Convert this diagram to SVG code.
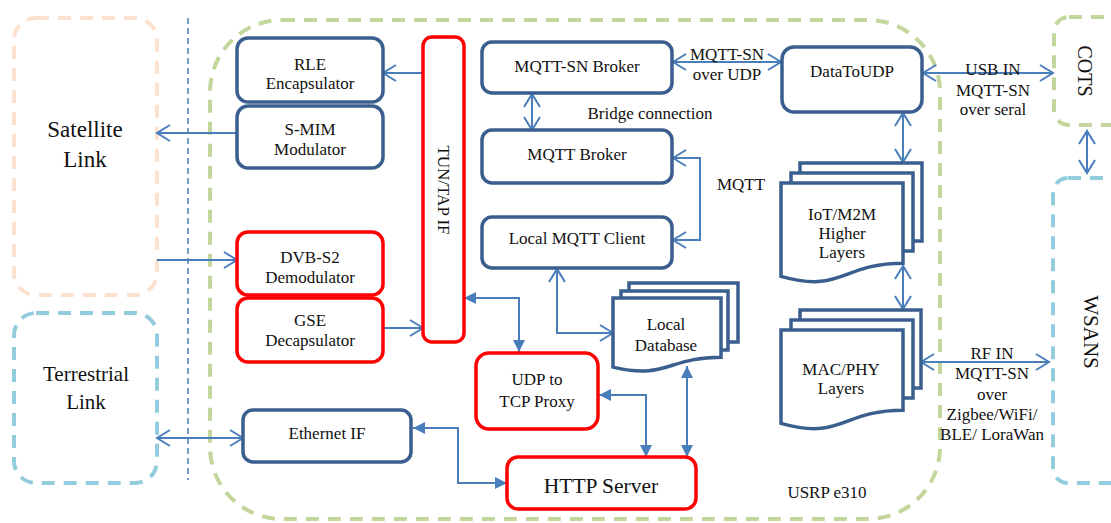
<svg xmlns="http://www.w3.org/2000/svg" width="1111" height="523" viewBox="0 0 1111 523" font-family="'Liberation Serif', 'Times New Roman', Times, 'DejaVu Serif', serif">
<style>
text{font-family:'Liberation Serif','Times New Roman',Times,'DejaVu Serif',serif;font-size:17px;fill:#111;text-anchor:middle}
.big{font-size:23px}
.mid{font-size:21px}
.f20{font-size:20px}
.f215{font-size:21.5px}
.nb{fill:#fff;stroke:#3a5f8e;stroke-width:3.5}
.nr{fill:#fff;stroke:#ff0000;stroke-width:3.5}
.c{fill:none;stroke:#4a7ebb;stroke-width:2}
.oa{marker-start:url(#oa);marker-end:url(#oa)}
.dash{fill:none;stroke-width:4;stroke-dasharray:13 9}
</style>
<defs>
<marker id="oa" viewBox="0 0 16 18" refX="14" refY="9" markerWidth="16" markerHeight="18" markerUnits="userSpaceOnUse" orient="auto-start-reverse">
<path d="M1,1 L14,9 L1,17" fill="none" stroke="#4a7ebb" stroke-width="2"/>
</marker>
<marker id="fa" viewBox="0 0 12 12" refX="12" refY="6" markerWidth="12" markerHeight="12" markerUnits="userSpaceOnUse" orient="auto-start-reverse">
<path d="M0,0 L12,6 L0,12 Z" fill="#4a7ebb"/>
</marker>
</defs>
<rect width="1111" height="523" fill="#fff"/>

<!-- containers -->
<g id="satellite-link">
<rect class="dash" x="14" y="18" width="143" height="277" rx="22" stroke="#fde1cf"/>
<text class="big" x="85" y="137">Satellite</text>
<text class="big" x="85" y="167">Link</text>
</g>
<g id="terrestrial-link">
<rect class="dash" x="14" y="313" width="143" height="170" rx="22" stroke="#93cddd"/>
<text class="mid" x="86" y="381">Terrestrial</text>
<text class="mid" x="86" y="409">Link</text>
</g>
<line x1="188" y1="18" x2="188" y2="480" stroke="#4a7ebb" stroke-width="1.5" stroke-dasharray="6 4"/>
<g id="usrp">
<rect class="dash" x="210" y="20" width="730" height="499" rx="72" stroke="#c3d69b"/>
<text x="827" y="498">USRP e310</text>
</g>
<g id="cots">
<rect class="dash" x="1054" y="17" width="100" height="108" rx="15" stroke="#c3d69b"/>
<text class="f20" x="1085" y="71" dominant-baseline="central" transform="rotate(90 1085 71)">COTS</text>
</g>
<g id="wsans">
<rect class="dash" x="1053" y="178" width="100" height="305" rx="15" stroke="#93cddd"/>
<text class="mid" x="1091" y="332" dominant-baseline="central" transform="rotate(90 1091 332)">WSANS</text>
</g>

<!-- connectors -->
<g id="connectors">
<line class="c" x1="237" y1="133" x2="157" y2="133" marker-end="url(#oa)"/>
<line class="c" x1="423" y1="73" x2="383" y2="73" marker-end="url(#oa)"/>
<line class="c" x1="157" y1="260" x2="237" y2="260" marker-end="url(#oa)"/>
<line class="c" x1="383" y1="328" x2="423" y2="328" marker-end="url(#oa)"/>
<line class="c oa" x1="157" y1="438" x2="243" y2="438"/>
<path class="c" d="M413,428 H458 V483 H507" marker-start="url(#fa)" marker-end="url(#fa)"/>
<path class="c" d="M464,298 H519 V352" marker-start="url(#fa)" marker-end="url(#fa)"/>
<path class="c" d="M599,395 H646 V457" marker-start="url(#fa)" marker-end="url(#fa)"/>
<line class="c" x1="687" y1="366" x2="687" y2="457" marker-start="url(#fa)" marker-end="url(#fa)"/>
<path class="c" d="M557,269 V333 H613" marker-start="url(#oa)" marker-end="url(#oa)"/>
<line class="c oa" x1="532" y1="94" x2="532" y2="130"/>
<path class="c" d="M673,158 H700 V240 H673" marker-start="url(#oa)" marker-end="url(#oa)"/>
<line class="c oa" x1="673" y1="62" x2="781" y2="62"/>
<line class="c oa" x1="923" y1="73" x2="1053" y2="73"/>
<line class="c oa" x1="903" y1="113" x2="903" y2="162"/>
<line class="c oa" x1="903" y1="266" x2="903" y2="309"/>
<line class="c oa" x1="921" y1="362" x2="1049" y2="362"/>
<line class="c oa" x1="1087" y1="131" x2="1087" y2="173"/>
<text x="727" y="60">MQTT-SN</text>
<text x="727" y="80">over UDP</text>
<text x="650" y="119">Bridge connection</text>
<text x="741" y="190">MQTT</text>
<text x="993" y="75">USB IN</text>
<text x="993" y="96">MQTT-SN</text>
<text x="993" y="115">over seral</text>
<text x="992" y="359">RF IN</text>
<text x="992" y="379">MQTT-SN</text>
<text x="992" y="400">over</text>
<text x="992" y="420">Zigbee/WiFi/</text>
<text x="992" y="440">BLE/ LoraWan</text>
</g>

<!-- nodes -->
<g id="rle">
<rect class="nb" x="237" y="38" width="146" height="64" rx="11"/>
<text x="310" y="70">RLE</text>
<text x="310" y="89">Encapsulator</text>
</g>
<g id="smim">
<rect class="nb" x="237" y="106" width="146" height="62" rx="11"/>
<text x="310" y="135">S-MIM</text>
<text x="310" y="155">Modulator</text>
</g>
<g id="tuntap">
<rect class="nr" x="423" y="37" width="41" height="305" rx="9"/>
<text x="443" y="190" dominant-baseline="central" transform="rotate(90 443 190)">TUN/TAP IF</text>
</g>
<g id="dvbs2">
<rect class="nr" x="237" y="232" width="146" height="63" rx="11"/>
<text x="310" y="263">DVB-S2</text>
<text x="310" y="283">Demodulator</text>
</g>
<g id="gse">
<rect class="nr" x="237" y="298" width="146" height="64" rx="11"/>
<text x="310" y="326">GSE</text>
<text x="310" y="346">Decapsulator</text>
</g>
<g id="ethernet">
<rect class="nb" x="243" y="410" width="168" height="52" rx="10"/>
<text x="327" y="439">Ethernet IF</text>
</g>
<g id="mqttsn-broker">
<rect class="nb" x="482" y="42" width="190" height="51" rx="10"/>
<text x="577" y="72">MQTT-SN Broker</text>
</g>
<g id="mqtt-broker">
<rect class="nb" x="482" y="130" width="190" height="53" rx="10"/>
<text x="577" y="160">MQTT Broker</text>
</g>
<g id="local-client">
<rect class="nb" x="482" y="217" width="190" height="51" rx="10"/>
<text x="577" y="244">Local MQTT Client</text>
</g>
<g id="udp-proxy">
<rect class="nr" x="476" y="353" width="122" height="76" rx="13"/>
<text x="537" y="385">UDP to</text>
<text x="537" y="407">TCP Proxy</text>
</g>
<g id="http">
<rect class="nr" x="507" y="457" width="189" height="52" rx="11"/>
<text class="f215" x="601" y="493">HTTP Server</text>
</g>
<g id="database">
<rect class="nb" x="629" y="283" width="109" height="59"/>
<rect class="nb" x="621" y="291" width="107" height="59"/>
<path class="nb" d="M613,298 H721 V357.3 C667,357.3 667,379.9 613,367.1 Z"/>
<text x="666" y="330">Local</text>
<text x="666" y="351">Database</text>
</g>
<g id="datatoudp">
<rect class="nb" x="782" y="47" width="140" height="65" rx="12"/>
<text x="852" y="77">DataToUDP</text>
</g>
<g id="iot">
<rect class="nb" x="800" y="163" width="122" height="78"/>
<rect class="nb" x="791" y="173" width="122" height="78"/>
<path class="nb" d="M781,183 H903 V263.2 C842,263.2 842,293.7 781,276.4 Z"/>
<text x="842" y="220">IoT/M2M</text>
<text x="842" y="239">Higher</text>
<text x="842" y="258">Layers</text>
</g>
<g id="macphy">
<rect class="nb" x="800" y="310" width="121" height="78"/>
<rect class="nb" x="791" y="320" width="122" height="78"/>
<path class="nb" d="M781,330 H903 V410.2 C842,410.2 842,440.7 781,423.4 Z"/>
<text x="841" y="375">MAC/PHY</text>
<text x="841" y="394">Layers</text>
</g>
</svg>
